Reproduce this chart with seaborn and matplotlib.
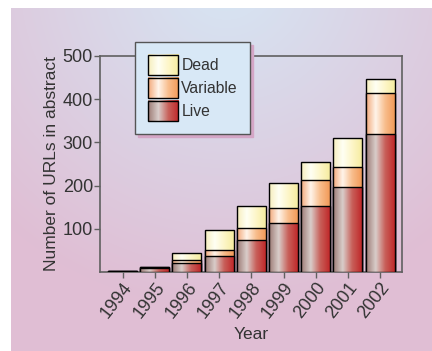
import numpy as np
import pandas as pd
import seaborn as sns
import matplotlib.pyplot as plt
from matplotlib.colors import LinearSegmentedColormap
from matplotlib.patches import Rectangle
from matplotlib.legend_handler import HandlerPatch
from matplotlib.image import BboxImage
from matplotlib.transforms import Bbox, TransformedBbox

# data
years = ["1994", "1995", "1996", "1997", "1998", "1999", "2000", "2001", "2002"]
live = [3, 10, 20, 37, 74, 113, 153, 197, 319]
variable = [0, 1, 7, 14, 29, 34, 61, 45, 95]
dead = [0, 0, 18, 46, 50, 60, 41, 69, 32]

sns.set_theme(style="white")
plt.rcParams["font.family"] = ["Liberation Sans", "DejaVu Sans"]
txt = "#333333"

# horizontal shading of each series
cmaps = {
    "Live": LinearSegmentedColormap.from_list(
        "live", ["#9c7a74", "#d9cdca", "#c8605a", "#c0282a"], N=256),
    "Variable": LinearSegmentedColormap.from_list(
        "var", ["#f2a878", "#fff4ea", "#f8bd8c", "#f29a58"], N=256),
    "Dead": LinearSegmentedColormap.from_list(
        "dead", ["#f6eebc", "#fffff4", "#fdf6c8", "#f6eca0"], N=256),
}


def grad(name):
    return cmaps[name](np.linspace(0, 1, 128))[None, :, :3]


fig = plt.figure(figsize=(4.32, 3.51), dpi=100)

# soft radial background panel
bg = fig.add_axes([11 / 432, 0, 1 - 11 / 432, 1 - 8 / 351], zorder=-5)
yy, xx = np.mgrid[0:343, 0:421]
r = np.clip(np.hypot((xx - 215) / 330, (yy + 30) / 330), 0, 1)[..., None]
c0 = np.array([0xd6, 0xe6, 0xf4]) / 255
c1 = np.array([0xe0, 0xbe, 0xd4]) / 255
bg.imshow(c0 * (1 - r) + c1 * r, aspect="auto")
bg.axis("off")

ax = fig.add_axes([100 / 432, 1 - 272 / 351, 302 / 432, 216 / 351])
ax.set_facecolor("none")

df = pd.DataFrame({"year": years, "live": live,
                   "variable": variable, "dead": dead})
df["lv"] = df["live"] + df["variable"]
df["total"] = df["lv"] + df["dead"]

layers = [("total", "Dead"), ("lv", "Variable"), ("live", "Live")]
z = 2
for col, name in layers:
    n0 = len(ax.patches)
    sns.barplot(data=df, x="year", y=col, ax=ax, width=0.9,
                edgecolor="black", linewidth=1.0, color="white")
    for p in ax.patches[n0:]:
        p.set_facecolor("none")
        p.set_zorder(z + 0.5)
        x0, y0 = p.get_x(), p.get_y()
        w, h = p.get_width(), p.get_height()
        if h <= 0:
            continue
        im = ax.imshow(grad(name), extent=[x0, x0 + w, y0, y0 + h],
                       aspect="auto", zorder=z, interpolation="bilinear")
        im.set_clip_path(p)
    z += 1

ax.set_xlim(-0.7, 8.68)
ax.set_ylim(0, 500)
ax.set_yticks([100, 200, 300, 400, 500])
for s in ax.spines.values():
    s.set_visible(True)
    s.set_color("#606060")
    s.set_linewidth(1.2)
ax.tick_params(axis="both", colors="#606060", labelcolor=txt, labelsize=13,
               direction="out", length=4, width=1, left=True, bottom=True, pad=1)
plt.setp(ax.get_xticklabels(), rotation=52, ha="right", rotation_mode="anchor")
ax.set_xlabel("Year", fontsize=12.5, color=txt, labelpad=4)
ax.set_ylabel("Number of URLs in abstract", fontsize=12.5, color=txt, labelpad=3)


class GradHandler(HandlerPatch):
    def create_artists(self, legend, orig_handle, xdescent, ydescent,
                       width, height, fontsize, trans):
        bb = TransformedBbox(Bbox.from_bounds(-xdescent, -ydescent,
                                              width, height), trans)
        img = BboxImage(bb, interpolation="bilinear")
        img.set_data(grad(orig_handle.get_label()))
        rect = Rectangle((-xdescent, -ydescent), width, height,
                         facecolor="none", edgecolor="black", lw=1.0,
                         transform=trans)
        return [img, rect]


handles = [Rectangle((0, 0), 1, 1, label=n) for n in ["Dead", "Variable", "Live"]]
leg = ax.legend(handles=handles, labels=["Dead", "Variable", "Live"],
                handler_map={Rectangle: GradHandler()},
                loc="upper left", bbox_to_anchor=(135 / 432, 1 - 42 / 351),
                bbox_transform=fig.transFigure, borderaxespad=0,
                fontsize=11.3, handlelength=1.95, handleheight=1.6,
                labelspacing=0.2, handletextpad=0.2, borderpad=0.8,
                fancybox=False, framealpha=1, facecolor="#d8e8f6",
                edgecolor="#555555",
                shadow={"color": "#d4a6c6", "alpha": 1})
leg.get_frame().set_linewidth(1.0)
for t in leg.get_texts():
    t.set_color(txt)
leg.set_zorder(20)

fig.patches.append(Rectangle((0, 0), 1, 1, transform=fig.transFigure,
                             facecolor="white", zorder=-10))
fig.savefig("out.png", dpi=100)
